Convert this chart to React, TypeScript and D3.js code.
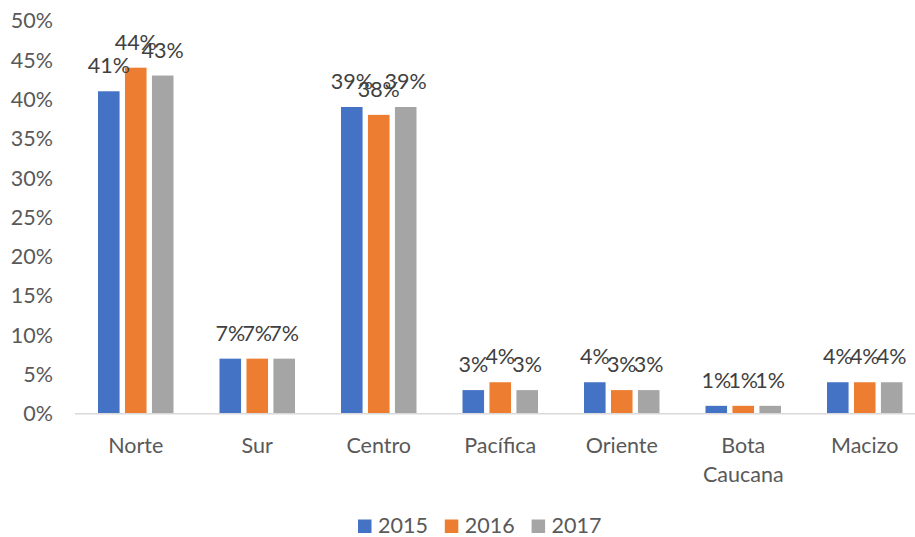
import React from 'react'
import * as d3 from 'd3'

const width = 915
const height = 537

const categories = ['Norte', 'Sur', 'Centro', 'Pacífica', 'Oriente', 'Bota Caucana', 'Macizo']
const years = ['2015', '2016', '2017']
const values2015 = [0.41, 0.07, 0.39, 0.03, 0.04, 0.01, 0.04]
const values2016 = [0.44, 0.07, 0.38, 0.04, 0.03, 0.01, 0.04]
const values2017 = [0.43, 0.07, 0.39, 0.03, 0.03, 0.01, 0.04]
const yTicks = [0, 0.05, 0.1, 0.15, 0.2, 0.25, 0.3, 0.35, 0.4, 0.45, 0.5]

const series = [values2015, values2016, values2017]
const colors = ['#4472C4', '#ED7D31', '#A5A5A5']
const textColor = '#595959'
const font = 'Lato, "Open Sans", sans-serif'
const fs = 21.5

const App = () => {
    // plot area runs past the right edge, as in the original
    const x0 = d3
        .scaleBand<string>()
        .domain(categories)
        .range([75, 925.5])
        .paddingInner(0.3786)
        .paddingOuter(0.1893)
    const x1 = d3
        .scaleBand<string>()
        .domain(years)
        .range([0, x0.bandwidth()])
        .paddingInner(0.2)
    const y = d3.scaleLinear().domain([0, 0.5]).range([413.7, 20.5])
    const pct = d3.format('.0%')

    return (
        <svg
            width={width}
            height={height}
            style={{ position: 'absolute', left: 0, top: 0, background: '#fff' }}
            fontFamily={font}
        >
            {yTicks.map(t => (
                <text
                    key={t}
                    x={53}
                    y={y(t)}
                    dy="0.36em"
                    textAnchor="end"
                    fontSize={fs}
                    fill={textColor}
                >
                    {pct(t)}
                </text>
            ))}

            {categories.map((c, ci) => (
                <g key={c} transform={`translate(${x0(c)}, 0)`}>
                    {series.map((vals, si) => (
                        <rect
                            key={si}
                            x={x1(years[si])}
                            y={y(vals[ci])}
                            width={x1.bandwidth()}
                            height={y(0) - y(vals[ci])}
                            fill={colors[si]}
                        />
                    ))}
                    {series.map((vals, si) => (
                        <text
                            key={'l' + si}
                            x={(x1(years[si]) || 0) + x1.bandwidth() / 2}
                            y={y(vals[ci]) - 18}
                            textAnchor="middle"
                            fontSize={fs}
                            fill="#404040"
                        >
                            {pct(vals[ci])}
                        </text>
                    ))}
                    <text
                        x={x0.bandwidth() / 2}
                        y={452.7}
                        textAnchor="middle"
                        fontSize={fs}
                        fill={textColor}
                    >
                        {c.split(' ').map((w, i) => (
                            <tspan key={w} x={x0.bandwidth() / 2} dy={i === 0 ? 0 : 29}>
                                {w}
                            </tspan>
                        ))}
                    </text>
                </g>
            ))}

            <line x1={75} x2={width} y1={y(0)} y2={y(0)} stroke="#D9D9D9" strokeWidth={1.5} />

            {years.map((yr, i) => (
                <g key={yr} transform={`translate(${358 + i * 86.8}, 0)`}>
                    <rect x={0} y={519.5} width={13.5} height={13.5} fill={colors[i]} />
                    <text x={20} y={532.5} fontSize={fs} fill={textColor}>
                        {yr}
                    </text>
                </g>
            ))}
        </svg>
    )
}

export default App
